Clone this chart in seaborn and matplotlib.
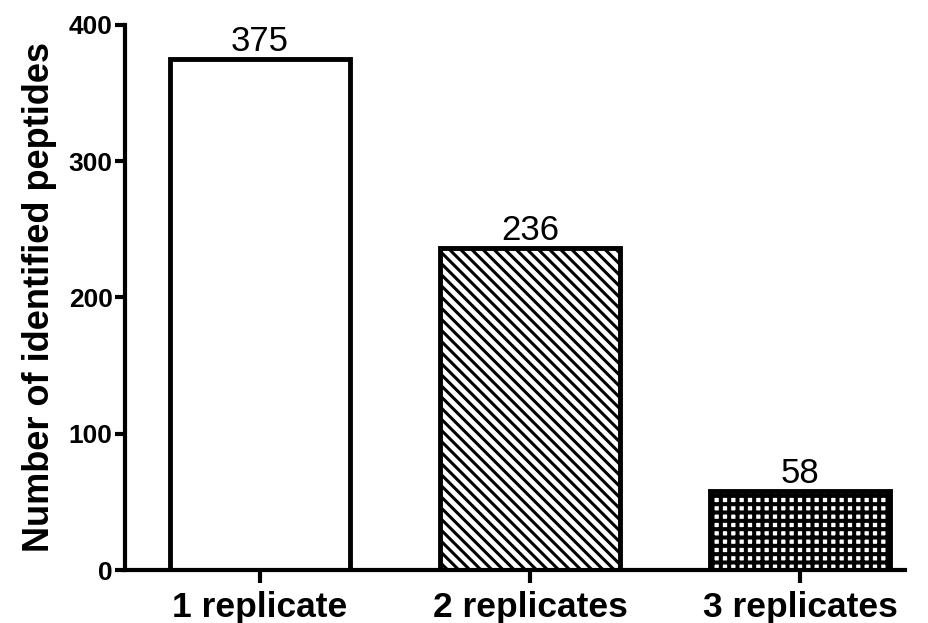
import matplotlib
matplotlib.use("Agg")
import matplotlib.pyplot as plt
import seaborn as sns
import pandas as pd

# ── Data ──────────────────────────────────────────────────────────────────────
categories = ["1 replicate", "2 replicates", "3 replicates"]
counts     = [375, 236, 58]
hatches    = ["", "\\\\\\", "++"]
hatch_lw   = [2.0, 2.2, 2.9]

sns.set_theme(style="ticks")
plt.rcParams["font.family"] = ["Liberation Sans", "DejaVu Sans"]
plt.rcParams["hatch.linewidth"] = 2.2

df = pd.DataFrame({"cat": categories, "n": counts})

fig = plt.figure(figsize=(9.29, 6.23), dpi=100)
ax = fig.add_axes([0.1346, 0.085, 0.84, 0.875])

sns.barplot(data=df, x="cat", y="n", ax=ax, color="white",
            edgecolor="black", linewidth=3.5, width=0.667, saturation=1)

for patch, h, lw in zip(ax.patches, hatches, hatch_lw):
    patch.set_hatch(h)
    patch.set_facecolor("white")
    patch.set_edgecolor("black")
    try:
        patch.set_hatch_linewidth(lw)
    except AttributeError:
        pass

for i, v in enumerate(counts):
    ax.text(i, v + 1, str(v), ha="center", va="bottom", fontsize=25,
            color="black")

ax.set_xlim(-0.5, 2.39)
ax.set_ylim(0, 400)
ax.set_yticks([0, 100, 200, 300, 400])
ax.set_xlabel("")
ax.set_ylabel("Number of identified peptides", fontsize=26,
              fontweight="bold", labelpad=8, color="black")

sns.despine(ax=ax)
for s in ["left", "bottom"]:
    ax.spines[s].set_linewidth(3)
    ax.spines[s].set_color("black")
ax.tick_params(axis="y", length=7, width=3, labelsize=19, pad=2,
               colors="black")
ax.tick_params(axis="x", length=9, width=3, labelsize=25.5, pad=6,
               colors="black")
for lab in ax.get_xticklabels() + ax.get_yticklabels():
    lab.set_fontweight("bold")

fig.savefig("out.png", dpi=100)
